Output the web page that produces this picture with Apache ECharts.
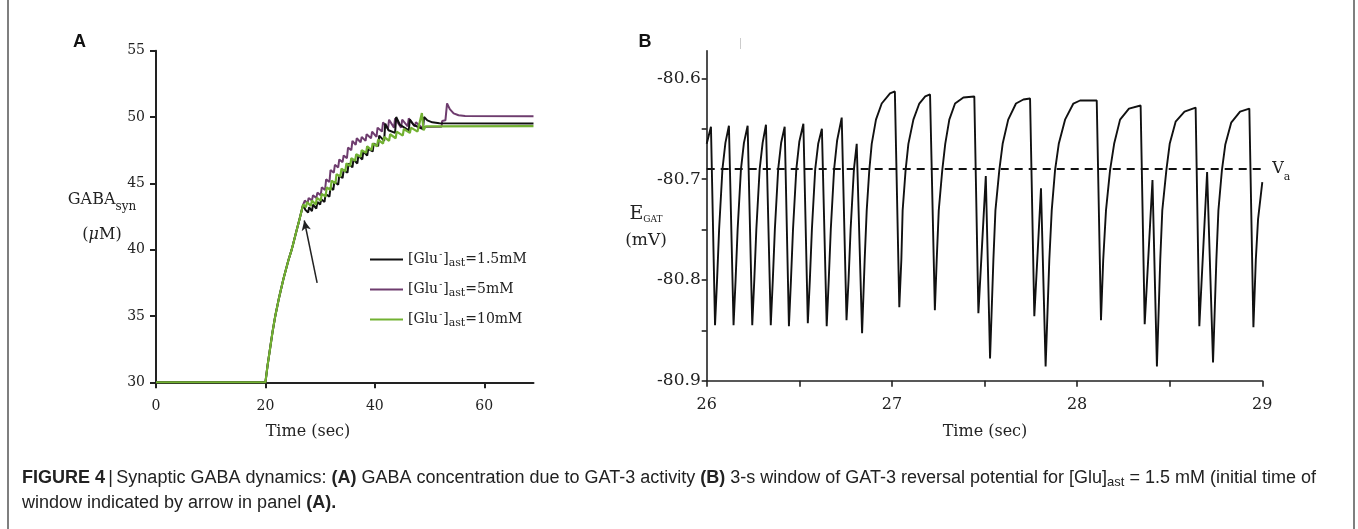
<!DOCTYPE html>
<html><head><meta charset="utf-8">
<script src="https://cdn.jsdelivr.net/npm/echarts@6/dist/echarts.min.js"></script>
<style>html,body{margin:0;padding:0;background:#fff}#c{width:1358px;height:529px}</style>
</head><body><div id="c"></div>
<script>
// ---------- Panel A data: GABA_syn (µM) vs time (s) ----------
const rampA = [[0,30],[20,30],[20.4,31.3],[20.8,32.4],[21.3,33.8],[21.8,35.0],[22.5,36.4],[23.3,37.8],[24.2,39.2],[24.8,40.0],[25.6,41.3],[26.3,42.4],[26.9,43.4]];
const glu15A = [[27.3,43.0],[27.8,42.8],[28.0,43.2],[28.5,42.9],[28.7,43.4],[29.3,43.1],[29.5,43.6],[30.0,43.4],[30.2,43.8],[30.8,43.6],[31.0,44.2],[31.7,44.0],[31.9,44.7],[32.4,44.5],[32.6,45.1],[33.3,44.9],[33.5,45.6],[34.1,45.4],[34.3,46.0],[35.0,45.8],[35.2,46.5],[35.9,46.2],[36.1,46.8],[36.8,46.5],[37.0,47.1],[37.7,46.8],[37.9,47.4],[38.6,47.1],[38.8,47.6],[39.6,47.4],[39.8,48.0],[40.6,47.8],[40.8,48.6],[41.7,48.2],[41.9,49.5],[42.5,49.0],[43.7,48.8],[43.9,50.0],[44.6,49.4],[46.2,49.0],[46.4,49.8],[47.1,49.4],[48.8,49.1],[49.0,50.0],[49.6,49.75],[50.5,49.6],[51.8,49.53],[69,49.52]];
const glu5A = [[27.2,43.7],[27.7,43.5],[27.9,43.9],[28.5,43.7],[28.7,44.1],[29.3,43.9],[29.5,44.3],[30.1,44.1],[30.3,44.7],[30.9,44.5],[31.1,45.3],[31.7,45.1],[31.9,46.0],[32.5,45.8],[32.7,46.4],[33.3,46.2],[33.5,46.8],[34.1,46.6],[34.3,47.1],[34.9,46.9],[35.1,47.7],[35.7,47.5],[35.9,48.2],[36.5,47.9],[36.7,48.4],[37.4,48.1],[37.6,48.5],[38.3,48.2],[38.5,48.7],[39.3,48.4],[39.5,48.9],[40.3,48.5],[40.5,49.2],[41.3,48.9],[41.5,49.6],[42.4,49.1],[42.6,49.8],[43.5,49.2],[43.7,49.9],[44.8,49.2],[45.0,49.8],[46.0,49.3],[46.2,49.9],[47.3,49.3],[47.5,49.6],[48.5,49.25],[52.2,49.27],[52.3,49.7],[52.9,49.75],[53.2,51.03],[53.7,50.6],[54.4,50.28],[55.3,50.13],[56.5,50.07],[69,50.05]];
const glu10A = [[27.4,43.2],[27.6,43.6],[28.3,43.3],[28.5,43.7],[29.2,43.4],[29.4,43.9],[30.1,43.7],[30.3,44.2],[31.0,44.0],[31.2,44.7],[31.9,44.5],[32.1,45.2],[32.8,45.0],[33.0,45.7],[33.7,45.5],[33.9,46.1],[34.6,45.9],[34.8,46.5],[35.5,46.3],[35.7,46.9],[36.4,46.7],[36.6,47.2],[37.4,47.0],[37.6,47.5],[38.4,47.3],[38.6,47.8],[39.4,47.5],[39.6,48.0],[40.4,47.8],[40.6,48.3],[41.5,48.0],[41.7,48.5],[42.6,48.2],[42.8,48.7],[43.8,48.4],[44.0,48.9],[45.1,48.6],[45.3,49.1],[46.4,48.8],[46.6,49.2],[47.8,48.9],[48.0,49.0],[48.6,50.3],[48.9,49.0],[49.3,49.3],[69,49.32]];
const arrowA = [[29.45,37.5],[27.1,42.2]];
const legendA = {glu15:'1.5mM', glu5:'5mM', glu10:'10mM'};
const ticksAx = [0,20,40,60];
const ticksAy = [30,35,40,45,50,55];

// ---------- Panel B data: E_GAT (mV) vs time (s) ----------
const egatB = [[26.000,-80.665],[26.023,-80.648],[26.045,-80.845],
[26.056,-80.80],[26.067,-80.75],[26.085,-80.69],[26.101,-80.664],[26.120,-80.647],
[26.145,-80.845],[26.156,-80.80],[26.167,-80.75],[26.185,-80.69],[26.201,-80.664],[26.221,-80.647],
[26.246,-80.845],[26.257,-80.80],[26.268,-80.75],[26.286,-80.69],[26.302,-80.664],[26.320,-80.646],
[26.346,-80.845],[26.357,-80.80],[26.368,-80.75],[26.386,-80.69],[26.402,-80.664],[26.421,-80.648],
[26.444,-80.846],[26.455,-80.80],[26.466,-80.75],[26.484,-80.69],[26.500,-80.663],[26.522,-80.645],
[26.546,-80.843],[26.557,-80.80],[26.568,-80.75],[26.586,-80.69],[26.602,-80.665],[26.622,-80.650],
[26.648,-80.846],[26.659,-80.80],[26.670,-80.75],[26.688,-80.69],[26.704,-80.662],[26.729,-80.639],
[26.755,-80.840],[26.766,-80.80],[26.777,-80.75],[26.795,-80.69],[26.810,-80.665],
[26.839,-80.853],[26.853,-80.78],[26.864,-80.731],[26.878,-80.691],[26.891,-80.665],[26.914,-80.641],[26.945,-80.625],[26.990,-80.615],[27.016,-80.613],
[27.040,-80.827],[27.051,-80.78],[27.058,-80.731],[27.074,-80.691],[27.089,-80.665],[27.116,-80.641],[27.148,-80.625],[27.180,-80.618],[27.206,-80.616],
[27.232,-80.830],[27.242,-80.78],[27.253,-80.731],[27.272,-80.691],[27.288,-80.665],[27.310,-80.641],[27.341,-80.625],[27.386,-80.619],[27.445,-80.618],
[27.467,-80.833],[27.507,-80.697],[27.530,-80.878],
[27.548,-80.78],[27.559,-80.731],[27.580,-80.691],[27.598,-80.665],[27.628,-80.641],[27.670,-80.625],[27.710,-80.621],[27.746,-80.620],
[27.769,-80.836],[27.805,-80.709],[27.830,-80.886],
[27.850,-80.78],[27.863,-80.731],[27.881,-80.691],[27.901,-80.665],[27.935,-80.641],[27.980,-80.625],[28.016,-80.622],[28.106,-80.622],
[28.129,-80.840],[28.141,-80.78],[28.156,-80.731],[28.178,-80.691],[28.200,-80.665],[28.232,-80.641],[28.280,-80.630],[28.343,-80.627],
[28.365,-80.844],[28.407,-80.701],[28.431,-80.886],
[28.449,-80.78],[28.460,-80.731],[28.482,-80.691],[28.500,-80.665],[28.532,-80.643],[28.580,-80.633],[28.640,-80.629],
[28.660,-80.846],[28.702,-80.693],[28.706,-80.693],[28.734,-80.882],
[28.752,-80.78],[28.763,-80.731],[28.782,-80.691],[28.800,-80.666],[28.832,-80.644],[28.880,-80.633],[28.930,-80.630],
[28.952,-80.847],[28.965,-80.78],[28.977,-80.74],[29.000,-80.703]];
const vaB = -80.69;
const ticksBx = [26,26.5,27,27.5,28,28.5,29];
const labelsBx = [26,27,28,29];
const ticksBy = [-80.9,-80.85,-80.8,-80.75,-80.7,-80.65,-80.6];
const labelsBy = [-80.9,-80.8,-80.7,-80.6];

const SERIF = "'DejaVu Serif', serif";
const SANS = "'Liberation Sans', Arial, sans-serif";
const INK = '#222';
const COLORS = {glu15:'#111111', glu5:'#6e3c6e', glu10:'#72b132'};

const chart = echarts.init(document.getElementById('c'), null, {renderer:'canvas'});

const option = {
  animation:false,
  backgroundColor:'#fff',
  grid:[
    {left:156, top:50.7, width:377.5, height:331.6, containLabel:false},
    {left:706.7, top:50.7, width:555.6, height:330, containLabel:false}
  ],
  xAxis:[
    {type:'value', gridIndex:0, min:0, max:69,
      axisLine:{show:true, lineStyle:{color:INK, width:2}}, splitLine:{show:false},
      axisTick:{show:true, length:6, customValues:ticksAx, lineStyle:{color:INK, width:2}},
      axisLabel:{customValues:ticksAx, margin:17, fontFamily:SERIF, fontSize:14, color:INK}},
    {type:'value', gridIndex:1, min:26, max:29,
      axisLine:{show:true, lineStyle:{color:INK, width:1.6}}, splitLine:{show:false},
      axisTick:{show:true, length:6, customValues:ticksBx, lineStyle:{color:INK, width:1.6}},
      axisLabel:{customValues:labelsBx, margin:16, fontFamily:SERIF, fontSize:16, color:INK}}
  ],
  yAxis:[
    {type:'value', gridIndex:0, min:30, max:55,
      axisLine:{show:true, lineStyle:{color:INK, width:2}}, splitLine:{show:false},
      axisTick:{show:true, length:6, customValues:ticksAy, lineStyle:{color:INK, width:2}},
      axisLabel:{customValues:ticksAy, margin:11, fontFamily:SERIF, fontSize:14, color:INK}},
    {type:'value', gridIndex:1, min:-80.9, max:-80.5726,
      axisLine:{show:true, lineStyle:{color:INK, width:1.6}}, splitLine:{show:false},
      axisTick:{show:true, length:5, customValues:ticksBy, lineStyle:{color:INK, width:1.6}},
      axisLabel:{customValues:labelsBy, margin:6, fontFamily:SERIF, fontSize:17, color:INK,
        formatter:v => v.toFixed(1)}}
  ],
  legend:{
    show:true, orient:'vertical', left:365, top:245,
    icon:'rect', itemWidth:33, itemHeight:2, itemGap:11,
    selectedMode:false,
    data:['glu15','glu5','glu10'],
    formatter: n => '{t|[Glu}{sup|-}{t|]}{sub|ast}{t|=' + legendA[n] + '}',
    textStyle:{
      fontFamily:SERIF, fontSize:14, color:INK,
      rich:{
        t:{fontFamily:SERIF, fontSize:14, color:INK, lineHeight:18},
        sup:{fontFamily:SERIF, fontSize:9, color:INK, lineHeight:9, padding:[0,1,9,1]},
        sub:{fontFamily:SERIF, fontSize:11, color:INK, lineHeight:11, padding:[8,0,0,0]}
      }
    }
  },
  series:[
    {name:'glu15', type:'line', xAxisIndex:0, yAxisIndex:0, data:rampA.concat(glu15A), showSymbol:false, symbol:'none',
      lineStyle:{color:COLORS.glu15, width:2}, itemStyle:{color:COLORS.glu15}, z:4,
      markLine:{silent:true, symbol:['none','arrow'], symbolSize:[7,10], label:{show:false},
        lineStyle:{color:'#222', width:1.5, type:'solid'},
        data:[[{coord:arrowA[0]},{coord:arrowA[1]}]]}},
    {name:'glu5', type:'line', xAxisIndex:0, yAxisIndex:0, data:rampA.concat(glu5A), showSymbol:false, symbol:'none',
      lineStyle:{color:COLORS.glu5, width:2}, itemStyle:{color:COLORS.glu5}, z:3},
    {name:'glu10', type:'line', xAxisIndex:0, yAxisIndex:0, data:rampA.concat(glu10A), showSymbol:false, symbol:'none',
      lineStyle:{color:COLORS.glu10, width:2.2}, itemStyle:{color:COLORS.glu10}, z:5},
    {name:'egat', type:'line', xAxisIndex:1, yAxisIndex:1, data:egatB, showSymbol:false, symbol:'none',
      lineStyle:{color:'#111', width:1.9}, itemStyle:{color:'#111'},
      markLine:{silent:true, symbol:['none','none'],
        lineStyle:{color:'#111', width:1.8, type:[8,6]},
        label:{show:true, position:'end', distance:10, formatter:'{v|V}{s|a}',
          rich:{v:{fontFamily:SERIF, fontSize:16, color:INK, lineHeight:18},
                s:{fontFamily:SERIF, fontSize:11, color:INK, lineHeight:11, padding:[16,0,0,0]}}},
        data:[[{coord:[26,vaB]},{coord:[29,vaB]}]]}}
  ],
  graphic:[
    {type:'rect', shape:{x:8, y:-5, width:1346, height:560}, style:{fill:'none', stroke:'#555', lineWidth:1.5}, silent:true},
    {type:'text', x:79.5, y:42, style:{text:'A', font:"bold 18px 'Liberation Sans', Arial, sans-serif", fill:'#111', textAlign:'center', textVerticalAlign:'middle'}},
    {type:'text', x:645, y:42, style:{text:'B', font:"bold 18px 'Liberation Sans', Arial, sans-serif", fill:'#111', textAlign:'center', textVerticalAlign:'middle'}},
    {type:'line', shape:{x1:740.5, y1:38, x2:740.5, y2:49}, style:{stroke:'#ccc', lineWidth:1}, silent:true},
    {type:'text', x:102, y:218, style:{text:'{g|GABA}{s|syn}\n{u|(}{m|μ}{u|M)}', textAlign:'center', textVerticalAlign:'middle',
      rich:{g:{fontFamily:SERIF, fontSize:16, fill:INK, lineHeight:34},
            s:{fontFamily:SERIF, fontSize:12, fill:INK, lineHeight:12, padding:[13,0,0,0]},
            u:{fontFamily:SERIF, fontSize:16, fill:INK, lineHeight:36},
            m:{fontFamily:SERIF, fontSize:16, fontStyle:'italic', fill:INK, lineHeight:36}}}},
    {type:'text', x:646, y:226, style:{text:'{e|E}{s|GAT}\n{u|(mV)}', textAlign:'center', textVerticalAlign:'middle',
      rich:{e:{fontFamily:SERIF, fontSize:19, fill:INK, lineHeight:30},
            s:{fontFamily:SERIF, fontSize:9, fill:INK, lineHeight:9, padding:[12,0,0,0]},
            u:{fontFamily:SERIF, fontSize:17, fill:INK, lineHeight:24}}}},
    {type:'text', x:308, y:432, style:{text:'Time (sec)', font:"16px 'DejaVu Serif', serif", fill:INK, textAlign:'center', textVerticalAlign:'middle'}},
    {type:'text', x:985, y:432, style:{text:'Time (sec)', font:"16px 'DejaVu Serif', serif", fill:INK, textAlign:'center', textVerticalAlign:'middle'}},
    {type:'text', x:22, y:478, style:{
      text:'{b|FIGURE 4} {n||} {n|Synaptic GABA dynamics: }{b|(A)}{n| GABA concentration due to GAT-3 activity }{b|(B)}{n| 3-s window of GAT-3 reversal potential for [Glu]}{s|ast}{n| = 1.5 mM (initial time of}',
      textVerticalAlign:'middle',
      rich:{b:{fontFamily:SANS, fontSize:18, fontWeight:'bold', fill:'#222'},
            n:{fontFamily:SANS, fontSize:18, fill:'#222'},
            s:{fontFamily:SANS, fontSize:13, fill:'#222', padding:[8,0,0,0]}}}},
    {type:'text', x:22, y:503, style:{
      text:'{n|window indicated by arrow in panel }{b|(A).}',
      textVerticalAlign:'middle',
      rich:{b:{fontFamily:SANS, fontSize:18, fontWeight:'bold', fill:'#222'},
            n:{fontFamily:SANS, fontSize:18, fill:'#222'}}}}
  ]
};
chart.setOption(option);
</script></body></html>
